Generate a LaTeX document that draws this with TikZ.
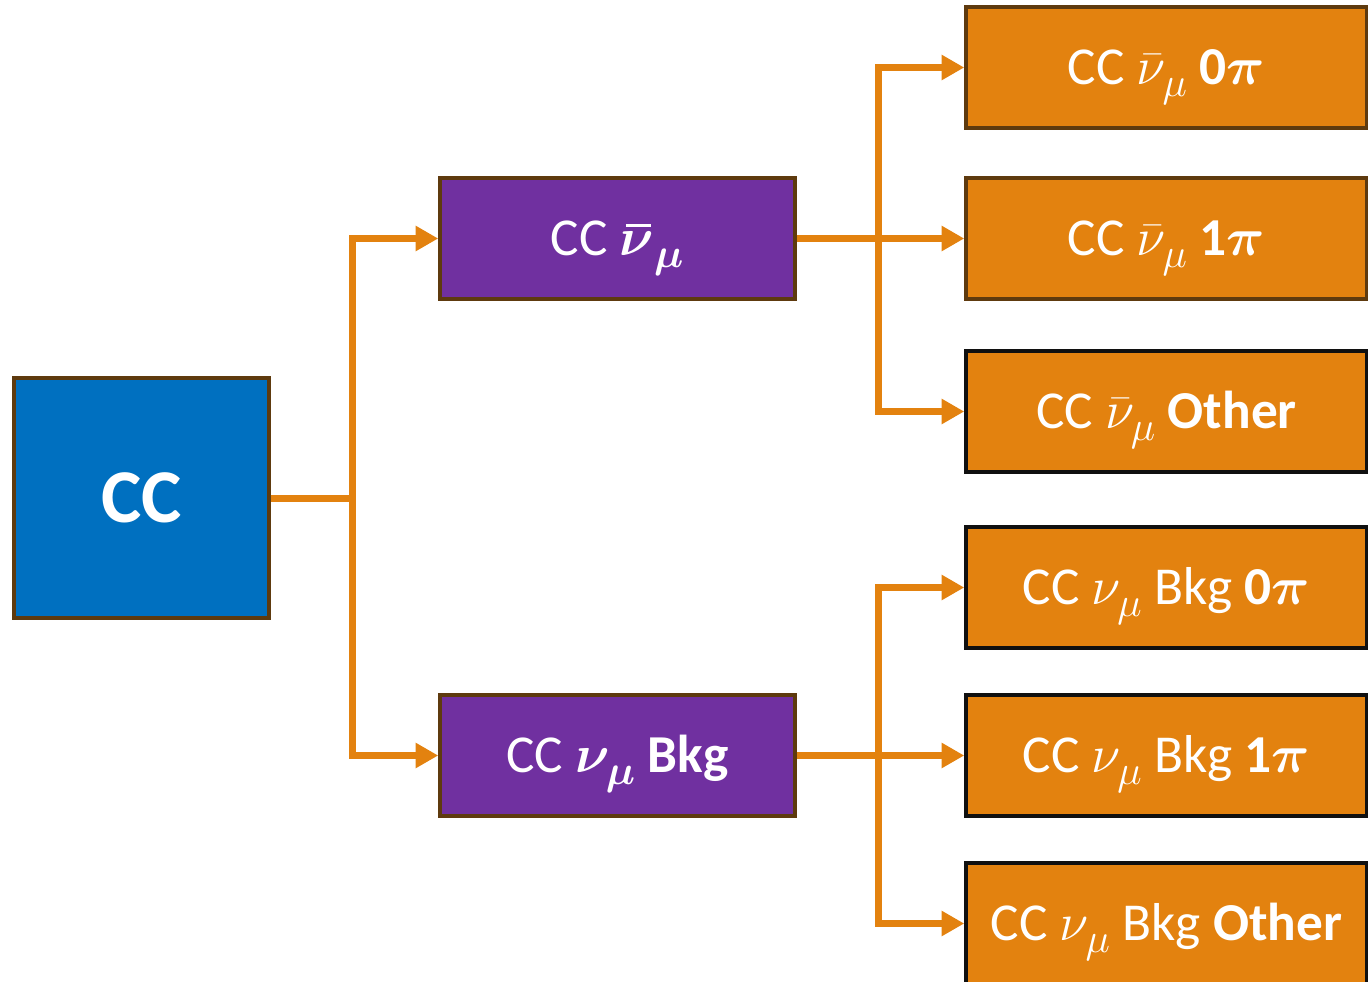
\RequirePackage{fix-cm}
\documentclass[tikz,border=0pt]{standalone}
\usepackage{bm}
\usepackage{fontspec}
\setmainfont{Carlito}
\usetikzlibrary{arrows.meta}

% larger subscripts for the big box labels
\DeclareMathSizes{40}{40}{31}{24}

\definecolor{ccblue}{HTML}{0070C0}
\definecolor{ccpurple}{HTML}{7030A0}
\definecolor{ccorange}{HTML}{E3820F}
\definecolor{ccbrown}{HTML}{5E3A0E}
\definecolor{ccdark}{HTML}{101010}

% subscript set slightly lower than usual
\newcommand{\lsub}[1]{_{\lower3pt\hbox{$\scriptstyle #1$}}}
% bold nu with a heavy bar spanning the letter
\newcommand{\boldnubar}{\mathord{\vbox{\offinterlineskip
  \moveright 4.5pt\vbox{\hrule width 19pt height 2.4pt depth 0pt}\kern 4pt\hbox{$\bm{\nu}$}}}}

\tikzset{
  box/.style={draw=ccbrown, line width=2.6pt, text=white, inner sep=0pt,
              minimum height=90.75pt, font=\fontsize{40}{48}\selectfont,
              text height=26pt, text depth=0pt},
  rootbox/.style={box, fill=ccblue, minimum width=191.25pt, minimum height=180pt,
                  font=\fontsize{57}{64}\selectfont\bfseries, text height=36.5pt},
  midbox/.style={box, fill=ccpurple, minimum width=266.25pt},
  leafbox/.style={box, fill=ccorange, minimum width=300.75pt},
  darkedge/.style={draw=ccdark},
  conn/.style={draw=ccorange, line width=5.25pt},
  arr/.style={conn, -{Triangle[length=17pt,width=18pt]}}
}

\begin{document}
\begin{tikzpicture}[x=0.75pt,y=-0.75pt]
  \useasboundingbox (0,0) rectangle (1368,982);

  % junction points of the connector buses
  \coordinate (j1) at (352,498);
  \coordinate (j2) at (878,238.5);
  \coordinate (j3) at (878,755.5);

  % boxes
  \node[rootbox] (cc) at (141.5,498) {CC};
  \node[midbox] (nubar) at (617.5,238.5) {CC $\boldnubar\lsub{\bm{\mu}}$};
  \node[midbox] (nubkg) at (617.5,755.5) {CC $\bm{\nu}\lsub{\bm{\mu}}$ \textbf{Bkg}};

  \node[leafbox] (a0) at (1166.5,67.5) {CC $\bar{\nu}\lsub{\mu}$ \textbf{0}$\bm{\pi}$};
  \node[leafbox] (a1) at (1166.5,238.5) {CC $\bar{\nu}\lsub{\mu}$ \textbf{1}$\bm{\pi}$};
  \node[leafbox, darkedge] (a2) at (1166.5,411.5) {CC $\bar{\nu}\lsub{\mu}$ \textbf{Other}};
  \node[leafbox, darkedge] (b0) at (1166.5,587.5) {CC $\nu\lsub{\mu}$ Bkg \textbf{0}$\bm{\pi}$};
  \node[leafbox, darkedge] (b1) at (1166.5,755.5) {CC $\nu\lsub{\mu}$ Bkg \textbf{1}$\bm{\pi}$};
  \node[leafbox, darkedge] (b2) at (1166.5,923.5) {CC $\nu\lsub{\mu}$ Bkg \textbf{Other}};

  % first split
  \draw[conn] (cc.east) -- (j1);
  \draw[arr] (j1) |- (nubar.west);
  \draw[arr] (j1) |- (nubkg.west);

  % anti-neutrino split
  \draw[arr] (nubar.east) -- (a1.west);
  \draw[arr] (j2) |- (a0.west);
  \draw[arr] (j2) |- (a2.west);

  % neutrino background split
  \draw[arr] (nubkg.east) -- (b1.west);
  \draw[arr] (j3) |- (b0.west);
  \draw[arr] (j3) |- (b2.west);
\end{tikzpicture}
\end{document}
